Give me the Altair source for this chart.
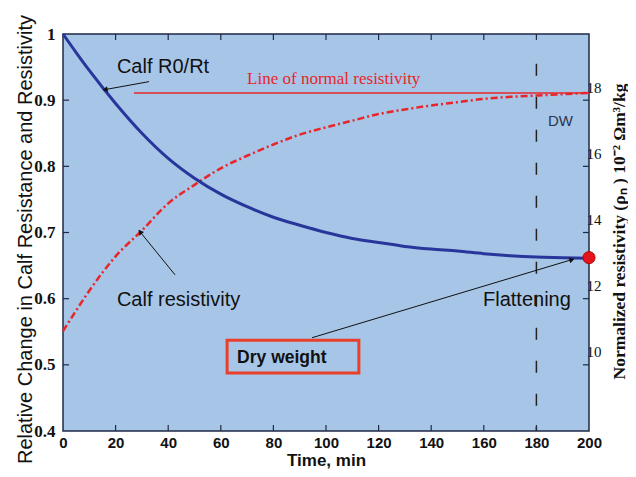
import altair as alt
import pandas as pd

# ---- data ----
time_min = [0, 5, 10, 20, 30, 40, 50, 60, 70, 80, 90, 100, 110, 120, 130, 140, 150, 160, 170, 180, 190, 200]
calf_r0_rt = [1.0, 0.972, 0.945, 0.895, 0.850, 0.812, 0.782, 0.758, 0.739, 0.723, 0.711, 0.700, 0.691, 0.685,
              0.679, 0.675, 0.672, 0.668, 0.665, 0.663, 0.662, 0.661]
calf_resistivity = [0.551, 0.582, 0.612, 0.664, 0.703, 0.744, 0.772, 0.797, 0.816, 0.833, 0.848, 0.859, 0.869,
                    0.879, 0.886, 0.892, 0.897, 0.902, 0.905, 0.907, 0.909, 0.911]

x_ticks = [0, 20, 40, 60, 80, 100, 120, 140, 160, 180, 200]
y_ticks = [0.4, 0.5, 0.6, 0.7, 0.8, 0.9, 1.0]
right_ticks = [10, 12, 14, 16, 18]

normal_line_t = [27, 200]
normal_line_v = 0.911
dw_time = 180
dw_top = 0.955
dry_weight_point = (200, 0.662)

labels = ["Calf R0/Rt", "Calf resistivity", "Flattening", "DW"]
labels_t = [20.5, 20.5, 159.7, 184.4]
labels_v = [0.950, 0.598, 0.598, 0.869]

arrow_t = [32.7, 42.6, 94.7]
arrow_v = [0.928, 0.636, 0.541]
arrow_t2 = [16.0, 29.3, 193.5]
arrow_v2 = [0.916, 0.701, 0.659]
arrow_angle = [170, 231, 343]

box_t = [62.4, 112.5]
box_v = [0.5373, 0.4877]

SANS = "Liberation Sans"
SERIF = "Liberation Serif"
BLUE = "#28369b"
RED = "#e8262a"

xscale = alt.Scale(domain=[0, 200], nice=False, zero=False)
yscale = alt.Scale(domain=[0.4, 1.0], nice=False, zero=False)

xaxis = alt.Axis(values=x_ticks, title="Time, min", domain=False, grid=False, ticks=False,
                 labelFont=SANS, labelFontWeight="bold", labelFontSize=15, labelColor="#111",
                 labelPadding=4, labelBaseline="top",
                 titleFont=SANS, titleFontWeight="bold", titleFontSize=17, titleColor="#111",
                 titleX=263, titleY=34, titleBaseline="alphabetic", labelFlush=False)
yaxis = alt.Axis(values=y_ticks, title="Relative Change in Calf Resistance and Resistivity",
                 domain=False, grid=False, ticks=False,
                 labelExpr="datum.value == 1 ? '1' : format(datum.value, '.1f')",
                 labelFont=SERIF, labelFontWeight="bold", labelFontSize=17, labelColor="#111",
                 labelPadding=8,
                 titleFont=SANS, titleFontWeight="normal", titleFontSize=20, titleColor="#111",
                 titleAngle=270, titleX=-38, titleY=205, titleAlign="center", titleBaseline="middle")


def X(f):
    return alt.X(f, type="quantitative", scale=xscale, axis=xaxis)


def Y(f):
    return alt.Y(f, type="quantitative", scale=yscale, axis=yaxis)


curves = pd.DataFrame({"t": time_min, "blue": calf_r0_rt, "red": calf_resistivity})

red_curve = alt.Chart(curves).mark_line(color=RED, strokeWidth=2.5, strokeDash=[7, 3, 2, 3],
                                        interpolate="monotone").encode(x=X("t"), y=Y("red"))
blue_curve = alt.Chart(curves).mark_line(color=BLUE, strokeWidth=3,
                                         interpolate="monotone").encode(x=X("t"), y=Y("blue"))

normal_df = pd.DataFrame({"t": [normal_line_t[0]], "t2": [normal_line_t[1]], "v": [normal_line_v]})
normal_rule = alt.Chart(normal_df).mark_rule(color=RED, strokeWidth=1.5).encode(
    x=X("t"), x2="t2", y=Y("v"))

dw_df = pd.DataFrame({"t": [dw_time], "v": [dw_top], "v2": [0.4]})
dw_rule = alt.Chart(dw_df).mark_rule(color="#222", strokeWidth=1.5, strokeDash=[12, 21]).encode(
    x=X("t"), y=Y("v"), y2="v2")

dot_df = pd.DataFrame({"t": [dry_weight_point[0]], "v": [dry_weight_point[1]]})
dot = alt.Chart(dot_df).mark_point(filled=True, shape="circle", size=150, color="#e3141b",
                                   stroke="#a00", strokeWidth=0.8, opacity=1).encode(x=X("t"), y=Y("v"))

arrows_df = pd.DataFrame({"t": arrow_t, "v": arrow_v, "t2": arrow_t2, "v2": arrow_v2, "a": arrow_angle})
arrow_lines = alt.Chart(arrows_df).mark_rule(color="#111", strokeWidth=1).encode(
    x=X("t"), y=Y("v"), x2="t2", y2="v2")
arrow_heads = alt.Chart(arrows_df).mark_point(shape="triangle-right", filled=True, color="#111",
                                              size=35, opacity=1).encode(
    x=X("t2"), y=Y("v2"), angle=alt.Angle("a:Q", scale=None))

lab_df = pd.DataFrame({"label": labels, "t": labels_t, "v": labels_v,
                       "size": [20, 20, 20, 15], "color": ["#111", "#111", "#111", "#2a3550"]})
label_text = alt.Chart(lab_df).mark_text(font=SANS, align="left", baseline="middle").encode(
    x=X("t"), y=Y("v"), text="label:N",
    size=alt.Size("size:Q", scale=None), color=alt.Color("color:N", scale=None))

normal_text = alt.Chart(pd.DataFrame({"t": [70], "v": [0.932], "label": ["Line of normal resistivity"]})).mark_text(
    font=SERIF, fontSize=17, color=RED, align="left", baseline="middle").encode(
    x=X("t"), y=Y("v"), text="label:N")

box_df = pd.DataFrame({"t": [box_t[0]], "t2": [box_t[1]], "v": [box_v[0]], "v2": [box_v[1]]})
box = alt.Chart(box_df).mark_rect(fillOpacity=0, stroke="#e8402a", strokeWidth=3).encode(
    x=X("t"), x2="t2", y=Y("v"), y2="v2")
dry_text = alt.Chart(pd.DataFrame({"t": [66.2], "v": [0.511], "label": ["Dry weight"]})).mark_text(
    font=SANS, fontSize=17.5, fontWeight="bold", color="#111", align="left", baseline="middle").encode(
    x=X("t"), y=Y("v"), text="label:N")

# inward tick marks
inner_x = [v for v in x_ticks if 0 < v < 200]
inner_y = [v for v in y_ticks if 0.4 < v < 1.0]
bt = pd.DataFrame({"t": inner_x})
bottom_ticks = alt.Chart(bt).transform_calculate(v="0.4", v2="0.4 + 0.009").mark_rule(
    color="#1f2a44", strokeWidth=1.2).encode(x=X("t"), y=Y("v:Q"), y2="v2:Q")
top_ticks = alt.Chart(bt).transform_calculate(v="1.0", v2="1.0 - 0.009").mark_rule(
    color="#1f2a44", strokeWidth=1.2).encode(x=X("t"), y=Y("v:Q"), y2="v2:Q")
lt = pd.DataFrame({"v": inner_y})
left_ticks = alt.Chart(lt).transform_calculate(t="0", t2="0 + 2.3").mark_rule(
    color="#1f2a44", strokeWidth=1.2).encode(x=X("t:Q"), x2="t2:Q", y=Y("v"))

main = alt.layer(dw_rule, normal_rule, red_curve, blue_curve, arrow_lines, arrow_heads, dot,
                 label_text, normal_text, box, dry_text, bottom_ticks, top_ticks, left_ticks)

rscale = alt.Scale(domain=[8, 20], nice=False, zero=False)
raxis = alt.Axis(orient="right", values=right_ticks, domain=False, grid=False, ticks=False,
                 title="Normalized resistivity (ρₙ ) 10⁻² Ωm³/kg",
                 labelFont=SERIF, labelFontSize=15, labelColor="#111", labelPadding=-3,
                 labelOffset=-13, labelAlign="left",
                 titleFont=SERIF, titleFontWeight="bold", titleFontSize=17.5, titleColor="#111",
                 titleAngle=270, titleX=30, titleY=197, titleAlign="center", titleBaseline="middle")
rt = pd.DataFrame({"r": right_ticks})
right_ticks_layer = alt.Chart(rt).transform_calculate(t="200 - 2.3", t2="200").mark_rule(
    color="#1f2a44", strokeWidth=1.2).encode(
    x=X("t:Q"), x2="t2:Q", y=alt.Y("r:Q", scale=rscale, axis=raxis))

chart = alt.layer(main, right_ticks_layer).resolve_scale(y="independent").properties(
    width=526, height=397,
    padding={"left": 55, "top": 26, "right": 39, "bottom": 38},
    autosize=alt.AutoSizeParams(type="none"),
    background="white",
).configure_view(fill="#a7c5e7", stroke="#1f2a44", strokeWidth=1.5)

chart.save("out.html", embed_options={"renderer": "svg", "actions": False})
